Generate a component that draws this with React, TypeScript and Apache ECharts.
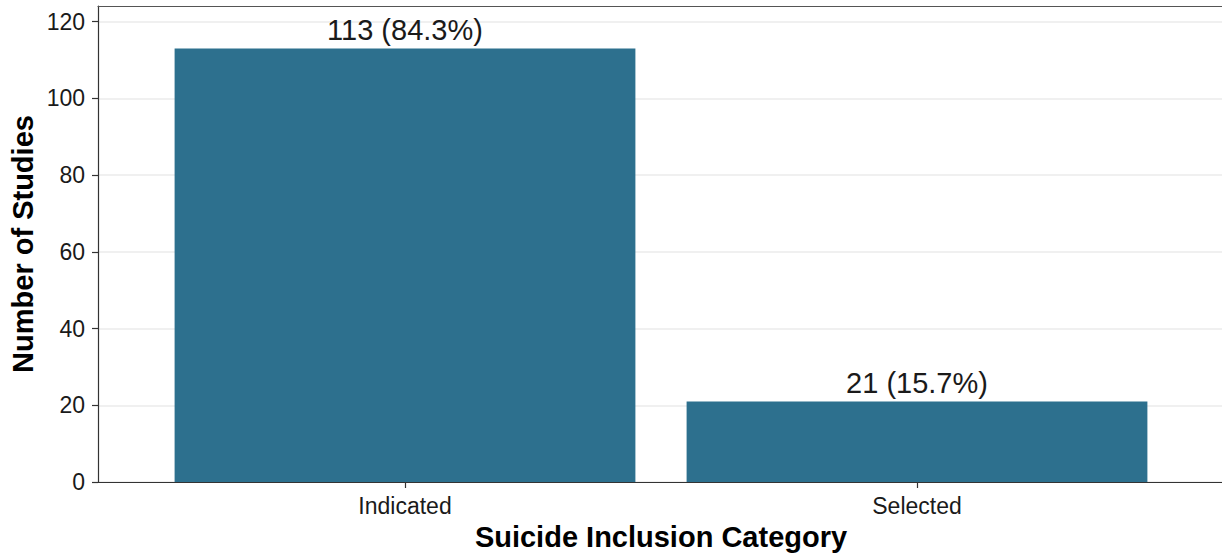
import React, { useEffect, useRef } from "react";
import * as echarts from "echarts";

const categories = ["Indicated", "Selected"];
const counts = [113, 21];
const percents = ["84.3%", "15.7%"];
const yTicks = [0, 20, 40, 60, 80, 100, 120];
const Y_MAX = 124.1;
const FONT = "'Liberation Sans', Arial, sans-serif";

export default function App() {
  const ref = useRef<HTMLDivElement>(null);
  useEffect(() => {
    const chart = echarts.init(ref.current!, null, { renderer: "svg" });
    chart.setOption({
      animation: false,
      backgroundColor: "#ffffff",
      grid: [
        { left: 98, right: -10, top: 6, bottom: 74 },
        { left: 149, right: 49, top: 6, bottom: 74 },
      ],
      xAxis: [
        {
          type: "value", gridIndex: 0, min: 0, max: 1, position: "bottom",
          axisLine: { show: true, onZero: false, lineStyle: { color: "#333333", width: 1.2 } },
          axisTick: { show: false }, axisLabel: { show: false }, splitLine: { show: false },
        },
        {
          type: "category", gridIndex: 1, data: categories,
          axisLine: { show: false },
          axisTick: { show: true, alignWithLabel: true, length: 6, lineStyle: { color: "#333333", width: 1.2 } },
          axisLabel: { margin: 12, fontSize: 23, color: "#1a1a1a", fontFamily: FONT },
          splitLine: { show: false },
        },
        {
          type: "value", gridIndex: 0, min: 0, max: 1, position: "top",
          axisLine: { show: true, onZero: false, lineStyle: { color: "#555555", width: 1.2 } },
          axisTick: { show: false }, axisLabel: { show: false }, splitLine: { show: false },
        },
      ],
      yAxis: [
        {
          type: "value", gridIndex: 0, min: 0, max: Y_MAX, interval: 20,
          axisLine: { show: true, lineStyle: { color: "#333333", width: 1.2 } },
          axisTick: { show: true, length: 6, customValues: yTicks, lineStyle: { color: "#333333", width: 1.2 } },
          axisLabel: { margin: 13, fontSize: 23, color: "#1a1a1a", fontFamily: FONT, customValues: yTicks },
          splitLine: { show: true, lineStyle: { color: "#EBEBEB", width: 1.5 } },
        },
        { type: "value", gridIndex: 1, min: 0, max: Y_MAX, show: false, splitLine: { show: false } },
      ],
      series: [
        {
          type: "bar", xAxisIndex: 1, yAxisIndex: 1, data: counts, barWidth: "90%",
          itemStyle: { color: "#2D708E" },
          label: {
            show: true, position: "top", distance: 4, fontSize: 29, color: "#1a1a1a", fontFamily: FONT,
            formatter: (p: any) => `${counts[p.dataIndex]} (${percents[p.dataIndex]})`,
          },
        },
      ],
      graphic: [
        {
          type: "text", x: 23, y: 244, rotation: Math.PI / 2,
          style: { text: "Number of Studies", font: `bold 29px ${FONT}`, fill: "#000", textAlign: "center", textVerticalAlign: "middle" },
        },
        {
          type: "text", x: 661, y: 537,
          style: { text: "Suicide Inclusion Category", font: `bold 29px ${FONT}`, fill: "#000", textAlign: "center", textVerticalAlign: "middle" },
        },
      ],
    });
    return () => chart.dispose();
  }, []);
  return <div ref={ref} style={{ position: "fixed", left: 0, top: 0, width: 1222, height: 556, background: "#fff" }} />;
}
